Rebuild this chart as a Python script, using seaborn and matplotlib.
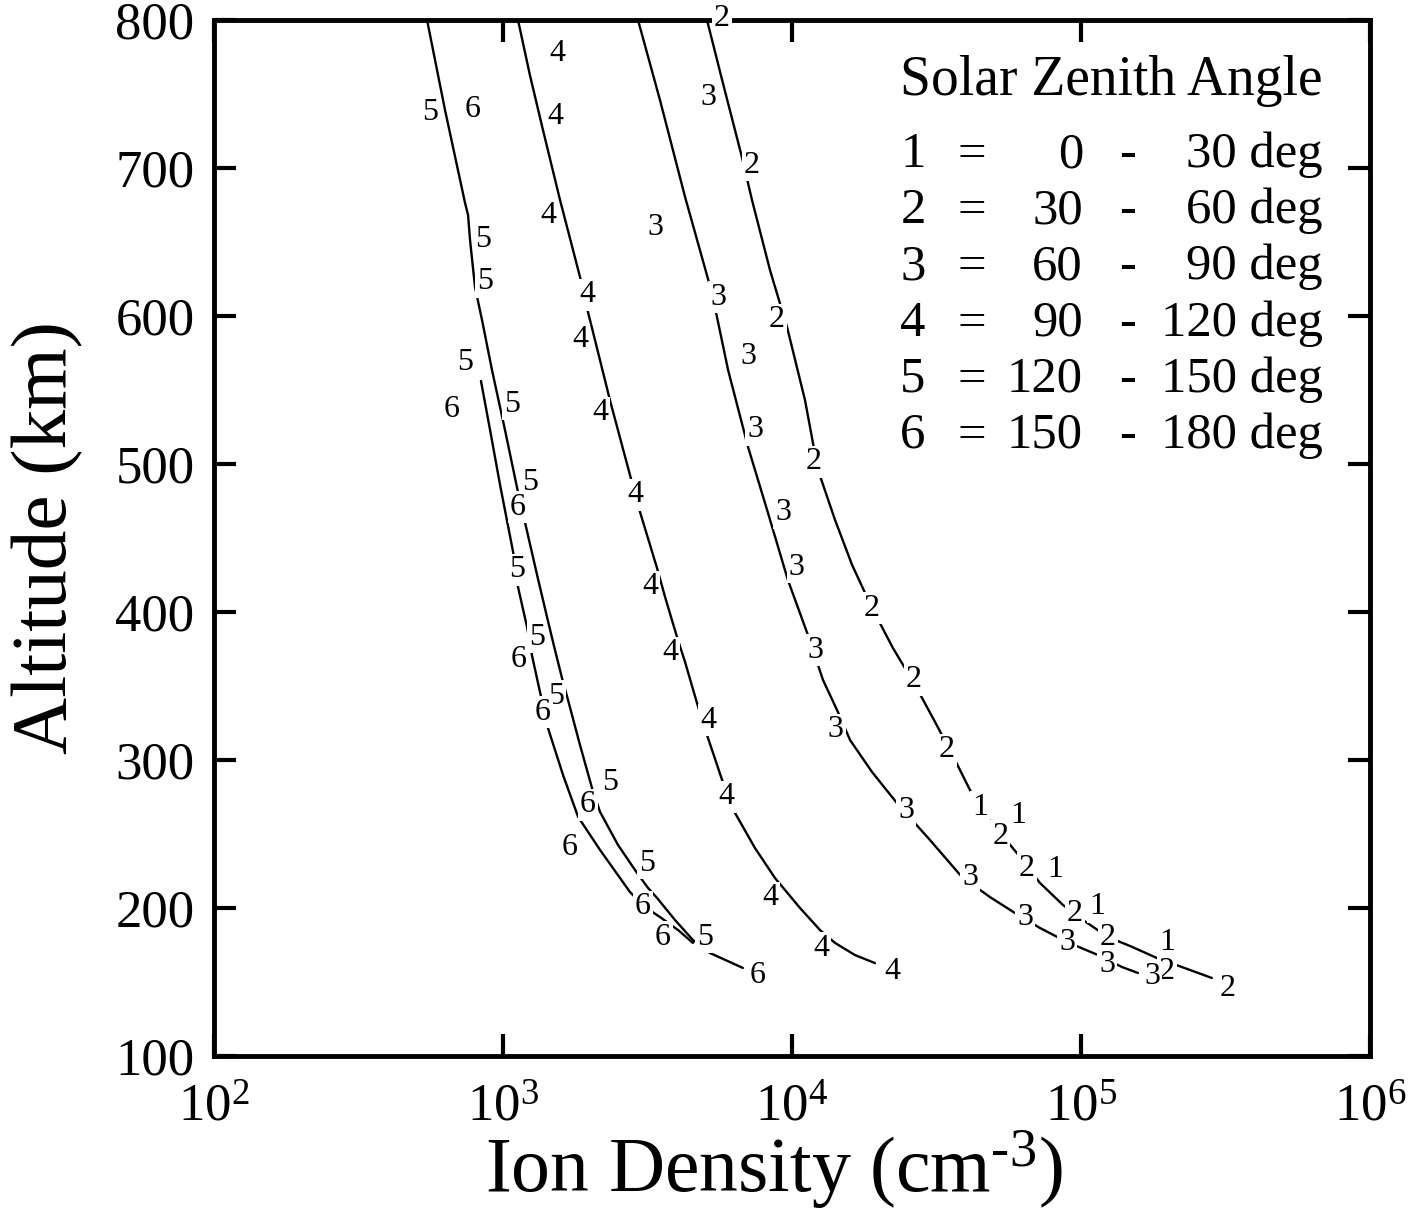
import pandas as pd
import matplotlib
matplotlib.use("Agg")
import matplotlib.pyplot as plt
import seaborn as sns
from matplotlib.ticker import FixedLocator, LogFormatterMathtext, NullLocator

# Ion density (cm^-3) versus altitude (km), one profile per solar zenith angle bin
curve2_density = [5080, 5730, 6710, 7270, 8390, 9610, 11090, 12300, 14090, 16140, 18920,
                  22340, 26420, 31260, 36640, 41300, 46560, 53330, 61520, 72110, 86700,
                  99300, 123900, 147900, 183200, 223500, 283800]
curve2_altitude = [800, 759.5, 707.4, 678.4, 631.1, 592.6, 543.2, 496.0, 462.2, 431.8, 402.7,
                   375.7, 352.0, 325.7, 300.0, 279.7, 262.8, 249.3, 234.5, 216.9, 202.0,
                   193.2, 180.4, 174.3, 166.2, 160.1, 152.7]

curve3_density = [2932, 3493, 4266, 5285, 6010, 7046, 8260, 9680, 11350, 12800, 14420, 15880,
                  18920, 23070, 30030, 38740, 48420, 59100, 72100, 89500, 114600, 138700, 157400]
curve3_altitude = [800, 745.9, 680.4, 615.5, 563.5, 511.5, 466.9, 421.6, 384.5, 354.1, 332.4,
                   313.5, 291.9, 270.9, 245.9, 220.9, 207.4, 196.6, 186.5, 177.0, 168.2, 160.1, 156.1]

curve4_density = [1127, 1239, 1375, 1575, 1847, 1968, 2081, 2344, 2750, 2979, 3412, 3638, 4000,
                  4266, 4690, 5080, 5730, 6351, 7447, 8730, 10660, 12500, 14090, 16520, 19360]
curve4_altitude = [800, 762.8, 725.7, 678.4, 626.4, 602.7, 583.8, 543.2, 492.6, 467.6, 429.7,
                   410.1, 383.1, 366.2, 338.5, 316.9, 286.5, 264.2, 240.5, 220.3, 200.0, 185.1,
                   176.4, 168.2, 162.8]

curve5_density = [546, 630, 739, 757, 769, 800, 846, 916, 1016, 1117, 1191, 1312, 1431, 1513,
                  1600, 1679, 1847, 2032, 2167, 2500, 2911, 3177, 3412, 3936, 4540, 5200, 6761]
curve5_altitude = [800, 739.2, 676.4, 668.2, 651.4, 619.6, 597.3, 563.5, 523.0, 484.5, 460.8,
                   425.0, 393.9, 374.3, 355.4, 340.5, 310.1, 281.1, 264.9, 242.6, 223.6, 213.5,
                   206.8, 191.9, 178.4, 169.6, 159.5]

curve6_density = [839, 902, 977, 1084, 1127, 1211, 1259, 1343, 1431, 1613, 1820, 2167, 2750,
                  3097, 3493, 4035, 4540]
curve6_altitude = [556.1, 523.0, 485.8, 440.5, 416.9, 389.9, 370.9, 345.9, 321.6, 289.9, 261.5,
                   239.2, 210.8, 200.7, 193.9, 185.1, 176.4]

# contour-style curve labels
labels1_density = [44750, 60500, 81300, 113500, 198600]
labels1_altitude = [268.2, 262.2, 225.7, 200.7, 177.0]

labels2_density = [5730, 7270, 8870, 11910, 18920, 26420, 34360, 52500, 65000, 95300, 123900,
                   198600, 322800]
labels2_altitude = [801, 702.0, 597.3, 501.4, 402.7, 354.1, 306.8, 248.6, 227.0, 196.6, 180.4,
                    156.8, 145.9]

labels3_density = [5120, 3357, 5546, 7046, 7447, 9310, 10400, 12020, 14190, 24790, 41300, 64000,
                   89500, 123000, 176200]
labels3_altitude = [747.3, 659.5, 612.8, 572.3, 523.0, 466.9, 430.4, 374.3, 320.3, 266.2, 220.3,
                    193.9, 177.0, 161.5, 153.4]

labels4_density = [1538, 1513, 1431, 1954, 1847, 2167, 2864, 3227, 3783, 5120, 5910, 8390,
                   12590, 22180]
labels4_altitude = [777.7, 734.5, 668.2, 614.2, 583.8, 534.5, 479.1, 416.9, 372.3, 327.0, 275.0,
                    206.8, 172.7, 156.8]

labels56_text = ["5", "6", "5", "5", "5", "6", "5", "5", "6", "5", "5", "6", "5", "6", "5", "6",
                 "6", "5", "6", "6", "5", "6"]
labels56_density = [559, 787, 853, 866, 739, 666, 1074, 1239, 1127, 1117, 1312, 1136, 1525, 1375,
                    2344, 1968, 1706, 3148, 3048, 3580, 5000, 7621]
labels56_altitude = [737.8, 739.2, 651.4, 623.0, 568.9, 536.5, 540.5, 487.2, 470.9, 428.4, 383.1,
                     367.6, 343.2, 332.4, 284.5, 269.6, 241.2, 230.4, 200.7, 180.4, 180.4, 154.7]

# legend table
sza_index = [1, 2, 3, 4, 5, 6]
sza_low = [0, 30, 60, 90, 120, 150]
sza_high = [30, 60, 90, 120, 150, 180]

x_ticks = [1e2, 1e3, 1e4, 1e5, 1e6]
y_ticks = [100, 200, 300, 400, 500, 600, 700, 800]

sns.set_style("ticks")
plt.rcParams['font.family'] = ['Liberation Serif', 'DejaVu Serif']
plt.rcParams['mathtext.fontset'] = 'custom'
plt.rcParams['mathtext.rm'] = 'Liberation Serif'
plt.rcParams['mathtext.it'] = 'Liberation Serif:italic'
plt.rcParams['mathtext.bf'] = 'Liberation Serif:bold'
plt.rcParams['text.color'] = 'black'
plt.rcParams['axes.labelcolor'] = 'black'

frames = []
for name, dens, alt in [("2", curve2_density, curve2_altitude),
                        ("3", curve3_density, curve3_altitude),
                        ("4", curve4_density, curve4_altitude),
                        ("5", curve5_density, curve5_altitude),
                        ("6", curve6_density, curve6_altitude)]:
    frames.append(pd.DataFrame({"density": dens, "altitude": alt, "curve": name}))
df = pd.concat(frames, ignore_index=True)

fig = plt.figure(figsize=(14.12, 12.17), dpi=100)
ax = fig.add_axes([214 / 1412, 1 - 1056 / 1217, 1156 / 1412, 1036 / 1217])

sns.lineplot(data=df, x="density", y="altitude", units="curve", estimator=None, sort=False,
             color="black", linewidth=1.7, ax=ax, legend=False)

ax.set_xscale("log")
ax.set_xlim(1e2, 1e6)
ax.set_ylim(100, 800)
ax.xaxis.set_major_locator(FixedLocator(x_ticks))
ax.xaxis.set_major_formatter(LogFormatterMathtext())
ax.xaxis.set_minor_locator(NullLocator())
ax.yaxis.set_major_locator(FixedLocator(y_ticks))

ax.tick_params(which="major", direction="in", length=16, width=3, top=True, right=True,
               labelsize=38, color="black", labelcolor="black")
ax.tick_params(axis="y", pad=14)
ax.tick_params(axis="x", pad=20)
for sp in ax.spines.values():
    sp.set_linewidth(3.5)
    sp.set_color("black")

box = dict(boxstyle="square,pad=0.06", fc="white", ec="none")
groups = [(["1"] * len(labels1_density), labels1_density, labels1_altitude),
          (["2"] * len(labels2_density), labels2_density, labels2_altitude),
          (["3"] * len(labels3_density), labels3_density, labels3_altitude),
          (["4"] * len(labels4_density), labels4_density, labels4_altitude),
          (labels56_text, labels56_density, labels56_altitude)]
for texts, dens, alts in groups:
    for t, d, a in zip(texts, dens, alts):
        ax.text(d, a, t, fontsize=23, ha="center", va="center", zorder=4, bbox=box,
                color="black")

# legend block
ax.text(0.9585, 0.9276, "Solar Zenith Angle", transform=ax.transAxes, ha="right",
        va="baseline", fontsize=40, color="black")
for i, (num, lo, hi) in enumerate(zip(sza_index, sza_low, sza_high)):
    y = 0.858 - i * 0.0542
    kw = dict(transform=ax.transAxes, va="baseline", fontsize=36.5, color="black")
    ax.text(0.6047, y, str(num), ha="center", **kw)
    ax.text(0.6557, y, "=", ha="center", **kw)
    ax.text(0.7517, y, str(lo), ha="right", **kw)
    ax.text(0.7907, y, "-", ha="center", **kw)
    ax.text(0.9593, y, f"{hi} deg", ha="right", **kw)

ax.set_xlabel(r"Ion Density (cm$^{\text{-}3}$)", fontsize=56)
ax.xaxis.set_label_coords(0.484, -0.110)
ax.xaxis.label.set_va("center")
ax.set_ylabel("Altitude (km)", fontsize=57)
ax.yaxis.set_label_coords(-0.1436, 0.5)
ax.yaxis.label.set_va("center")

fig.savefig("out.png", dpi=100)
